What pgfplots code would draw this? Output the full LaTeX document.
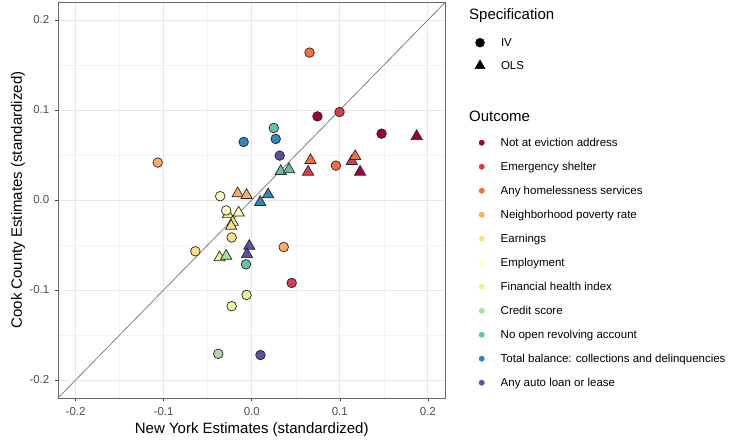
\documentclass[border=0pt]{standalone}
\usepackage{pgfplots}
\pgfplotsset{compat=1.18}
\usepackage{fontspec}
\setmainfont{Liberation Sans}
\definecolor{c1}{HTML}{9E0142}
\definecolor{c2}{HTML}{D53E4F}
\definecolor{c3}{HTML}{F46D43}
\definecolor{c4}{HTML}{FDAE61}
\definecolor{c5}{HTML}{FEE08B}
\definecolor{c6}{HTML}{FFFFBF}
\definecolor{c7}{HTML}{E6F598}
\definecolor{c8}{HTML}{ABDDA4}
\definecolor{c9}{HTML}{66C2A5}
\definecolor{c10}{HTML}{3288BD}
\definecolor{c11}{HTML}{5E4FA2}
\definecolor{tickgray}{HTML}{4D4D4D}
\pgfplotsset{
  iv/.style={only marks, mark=*, mark size=4.8pt, mark options={fill=#1, draw=black!85, line width=0.7pt}, forget plot},
  ols/.style={only marks, mark=triangle*, mark size=6.5pt, mark options={fill=#1, draw=black!85, line width=0.7pt}, forget plot},
  lg/.style={only marks, mark=*, mark size=2.7pt, mark options={fill=#1, draw=#1}},
}
\begin{document}
\begin{tikzpicture}
\useasboundingbox (0,0) rectangle (738pt,443pt);
\begin{axis}[
  at={(58pt,45pt)}, anchor=south west,
  scale only axis, width=387.5pt, height=396pt,
  xmin=-0.22, xmax=0.22, ymin=-0.22, ymax=0.22,
  xtick={-0.2,-0.1,0,0.1,0.2}, ytick={-0.2,-0.1,0,0.1,0.2},
  xticklabels={-0.2,-0.1,0.0,0.1,0.2}, yticklabels={-0.2,-0.1,0.0,0.1,0.2},
  minor xtick={-0.15,-0.05,0.05,0.15}, minor ytick={-0.15,-0.05,0.05,0.15},
  grid=both,
  major grid style={color=black!9, line width=0.8pt},
  minor grid style={color=black!5, line width=0.45pt},
  tick align=outside, xtick pos=left, ytick pos=left,
  major tick length=3.5pt, minor tick length=0pt,
  tick style={color=black!75, line width=0.6pt},
  axis line style={color=black!60, line width=0.9pt},
  xticklabel style={font=\fontsize{11.5}{13}\selectfont, text=tickgray, inner sep=0pt, yshift=-6pt},
  yticklabel style={font=\fontsize{11.5}{13}\selectfont, text=tickgray, inner sep=0pt, xshift=-5pt},
  xlabel={New York Estimates (standardized)},
  ylabel={Cook County Estimates (standardized)},
  xlabel style={font=\fontsize{15}{18}\selectfont, at={(axis description cs:0.5,-0.0808)}, anchor=center, inner sep=0pt},
  ylabel style={font=\fontsize{15}{18}\selectfont, at={(axis description cs:-0.1032,0.5)}, anchor=center, inner sep=0pt},
  legend style={at={(1.0728,0.6598)}, anchor=north west, draw=none, fill=none, inner sep=0pt, outer sep=0pt,
    row sep=12pt, column sep=11pt, font=\fontsize{11.5}{13}\selectfont,
    nodes={inner sep=0pt, text height=9.5pt, text depth=2.5pt}},
  legend cell align=left,
  legend image code/.code={\path[draw=none, fill=none] (-8pt,-6pt) rectangle (8pt,6pt); \draw[#1] plot coordinates {(0pt,0pt)};},
]
\addplot[color=black!50, line width=0.8pt, forget plot] coordinates {(-0.22,-0.22) (0.22,0.22)};
% OLS
\addplot[ols=c1] coordinates {(0.1873,0.0707) (0.123,0.0312)};
\addplot[ols=c2] coordinates {(0.064,0.0312) (0.1136,0.043)};
\addplot[ols=c3] coordinates {(0.0667,0.0441) (0.1174,0.0485)};
\addplot[ols=c4] coordinates {(-0.016,0.0072) (-0.0059,0.0053)};
\addplot[ols=c7] coordinates {(-0.027,-0.016) (-0.0366,-0.064)};
\addplot[ols=c6] coordinates {(-0.0149,-0.0142)};
\addplot[ols=c5] coordinates {(-0.0216,-0.0246) (-0.0234,-0.029)};
\addplot[ols=c8] coordinates {(-0.029,-0.0623)};
\addplot[ols=c9] coordinates {(0.0329,0.0319) (0.0423,0.0338)};
\addplot[ols=c10] coordinates {(0.0096,-0.0024) (0.0186,0.0061)};
\addplot[ols=c11] coordinates {(-0.0028,-0.0512) (-0.0054,-0.0604)};
% IV
\addplot[iv=c1] coordinates {(0.0746,0.0929) (0.1474,0.0737)};
\addplot[iv=c2] coordinates {(0.0997,0.0977) (0.0453,-0.0922)};
\addplot[iv=c3] coordinates {(0.0656,0.1638) (0.0956,0.0382)};
\addplot[iv=c4] coordinates {(-0.1068,0.0416) (0.0363,-0.0523)};
\addplot[iv=c5] coordinates {(-0.0228,-0.0416) (-0.064,-0.057)};
\addplot[iv=c6] coordinates {(-0.0358,0.0042) (-0.029,-0.0116)};
\addplot[iv=c7] coordinates {(-0.0059,-0.1055) (-0.0228,-0.118)};
\addplot[iv=c8] coordinates {(-0.038,-0.1709)};
\addplot[iv=c9] coordinates {(0.025,0.080) (-0.0065,-0.0715)};
\addplot[iv=c10] coordinates {(0.0272,0.0678) (-0.0092,0.0645)};
\addplot[iv=c11] coordinates {(0.0317,0.0493) (0.0099,-0.1723)};
% legend
\addlegendimage{lg=c1}\addlegendentry{Not at eviction address}
\addlegendimage{lg=c2}\addlegendentry{Emergency shelter}
\addlegendimage{lg=c3}\addlegendentry{Any homelessness services}
\addlegendimage{lg=c4}\addlegendentry{Neighborhood poverty rate}
\addlegendimage{lg=c5}\addlegendentry{Earnings}
\addlegendimage{lg=c6}\addlegendentry{Employment}
\addlegendimage{lg=c7}\addlegendentry{Financial health index}
\addlegendimage{lg=c8}\addlegendentry{Credit score}
\addlegendimage{lg=c9}\addlegendentry{No open revolving account}
\addlegendimage{lg=c10}\addlegendentry{Total balance: collections and delinquencies}
\addlegendimage{lg=c11}\addlegendentry{Any auto loan or lease}
\end{axis}
\begin{axis}[
  at={(58pt,45pt)}, anchor=south west,
  scale only axis, width=387.5pt, height=396pt,
  hide axis, xmin=0, xmax=1, ymin=0, ymax=1,
  legend style={at={(1.0684,0.9124)}, anchor=north west, draw=none, fill=none, inner sep=0pt, outer sep=0pt,
    row sep=11pt, column sep=13pt, font=\fontsize{11.5}{13}\selectfont,
    nodes={inner sep=0pt, text height=9.5pt, text depth=2.5pt}},
  legend cell align=left,
  legend image code/.code={\path[draw=none, fill=none] (-8pt,-6pt) rectangle (8pt,6pt); \draw[#1] plot coordinates {(0pt,0pt)};},
]
\addlegendimage{only marks, mark=*, mark size=4.5pt, mark options={fill=black, draw=black}}\addlegendentry{IV}
\addlegendimage{only marks, mark=triangle*, mark size=5.8pt, mark options={fill=black, draw=black}}\addlegendentry{OLS}
\end{axis}
\node[anchor=west, inner sep=0pt, font=\fontsize{15}{18}\selectfont] at (469pt,427pt) {Specification};
\node[anchor=west, inner sep=0pt, font=\fontsize{15}{18}\selectfont] at (469pt,326.3pt) {Outcome};
\end{tikzpicture}
\end{document}
